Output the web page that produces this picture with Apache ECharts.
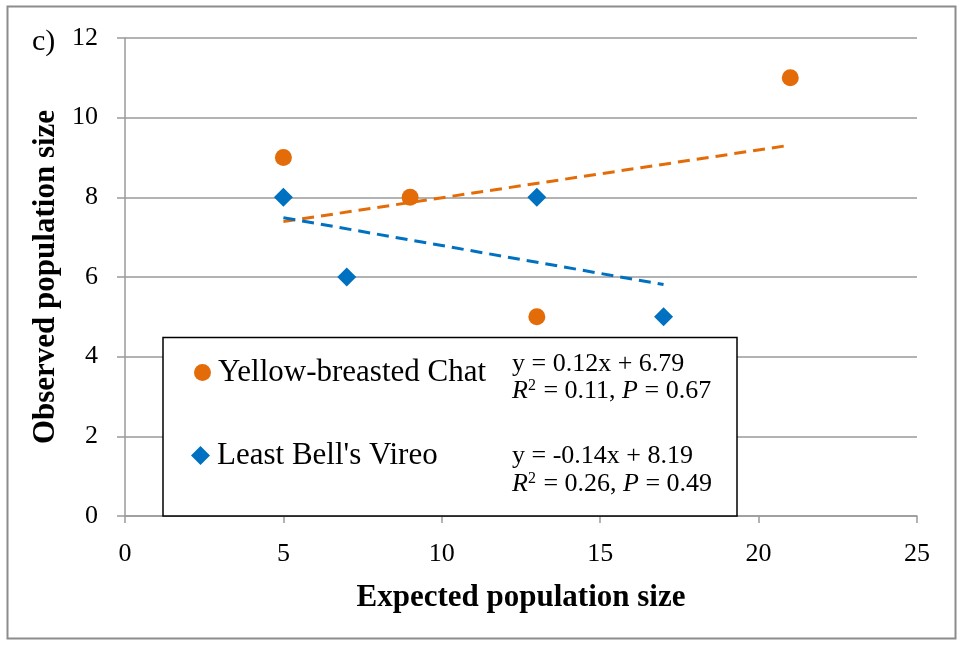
<!DOCTYPE html>
<html>
<head>
<meta charset="utf-8">
<script src="https://cdn.jsdelivr.net/npm/echarts@6/dist/echarts.min.js"></script>
<style>
  html, body { margin: 0; padding: 0; background: #fff; }
  #chart { width: 964px; height: 649px; }
</style>
</head>
<body>
<div id="chart"></div>
<script>
// Observed vs expected population sizes per species
const chatExpected = [5, 9, 13, 21];
const chatObserved = [9, 8, 5, 11];
const vireoExpected = [5, 7, 13, 17];
const vireoObserved = [8, 6, 8, 5];

// Linear fits: [slope, intercept], drawn over the range of each species' x values
const chatFit = [0.12, 6.79];
const vireoFit = [-0.14, 8.19];
const chatStats = ['0.11', '0.67'];
const vireoStats = ['0.26', '0.49'];

const xTicks = [0, 5, 10, 15, 20, 25];
const yTicks = [0, 2, 4, 6, 8, 10, 12];

const ORANGE = '#E36C09';
const BLUE = '#0070C0';
const SERIF = '"Liberation Serif", "Times New Roman", serif';

function pairs(xs, ys) { return xs.map((x, i) => [x, ys[i]]); }
function fitLine(xs, fit) {
  const lo = Math.min(...xs), hi = Math.max(...xs);
  return [[lo, fit[0] * lo + fit[1]], [hi, fit[0] * hi + fit[1]]];
}
function eqText(fit) {
  const s = fit[0] < 0 ? '-' + Math.abs(fit[0]).toFixed(2) : fit[0].toFixed(2);
  return 'y = ' + s + 'x + ' + fit[1].toFixed(2);
}
function statText(st) {
  return '{i|R}{s|2}{n| = ' + st[0] + ', }{i|P}{n| = ' + st[1] + '}';
}
const EQ_SIZE = 26;
const eqRich = {
  n: { fontFamily: SERIF, fontSize: EQ_SIZE, color: '#000' },
  i: { fontFamily: SERIF, fontSize: EQ_SIZE, fontStyle: 'italic', color: '#000' },
  s: { fontFamily: SERIF, fontSize: 16, color: '#000', verticalAlign: 'top', padding: [0, 1, 11, 0] }
};

const chart = echarts.init(document.getElementById('chart'), null, { renderer: 'canvas' });

const legendCommon = {
  orient: 'vertical',
  z: 10,
  itemWidth: 17,
  itemHeight: 17,
  itemGap: 0,
  padding: 0,
  selectedMode: false,
  textStyle: { fontFamily: SERIF, fontSize: 31, color: '#000', padding: [0, 0, 0, 2] }
};

chart.setOption({
  backgroundColor: '#fff',
  animation: false,
  grid: { left: 125, right: 47, top: 38, bottom: 133, containLabel: false },
  xAxis: {
    type: 'value',
    min: xTicks[0], max: xTicks[xTicks.length - 1], interval: 5,
    name: 'Expected population size',
    nameLocation: 'middle', nameGap: 66,
    nameTextStyle: { fontFamily: SERIF, fontSize: 31, fontWeight: 'bold', color: '#000' },
    axisLine: { show: true, lineStyle: { color: '#9a9a9a', width: 1.5 } },
    axisTick: { show: true, inside: false, length: 7, lineStyle: { color: '#9a9a9a', width: 1.5 } },
    axisLabel: { fontFamily: SERIF, fontSize: 26, color: '#000', margin: 25 },
    splitLine: { show: false }
  },
  yAxis: {
    type: 'value',
    min: yTicks[0], max: yTicks[yTicks.length - 1], interval: 2,
    name: 'Observed population size',
    nameLocation: 'middle', nameGap: 63,
    nameTextStyle: { fontFamily: SERIF, fontSize: 31, fontWeight: 'bold', color: '#000' },
    axisLine: { show: true, lineStyle: { color: '#9a9a9a', width: 1.5 } },
    axisTick: { show: true, inside: false, length: 8, lineStyle: { color: '#9a9a9a', width: 1.5 } },
    axisLabel: { fontFamily: SERIF, fontSize: 26, color: '#000', margin: 27 },
    splitLine: { show: true, lineStyle: { color: '#9a9a9a', width: 1.5 } }
  },
  legend: [
    Object.assign({}, legendCommon, { left: 194, top: 357, data: [{ name: 'Yellow-breasted Chat', icon: 'circle' }] }),
    Object.assign({}, legendCommon, { left: 191, top: 440, itemWidth: 19, itemHeight: 19, data: [{ name: "Least Bell's Vireo", icon: 'diamond' }] })
  ],
  graphic: [
    // outer frame
    { type: 'rect', z: 0, silent: true,
      shape: { x: 7.5, y: 6.5, width: 948, height: 632 },
      style: { fill: 'none', stroke: '#8c8c8c', lineWidth: 2 } },
    { type: 'text', left: 32, top: 27, z: 10,
      style: { text: 'c)', fontFamily: SERIF, fontSize: 30, fill: '#000' } },
    // legend box
    { type: 'rect', z: 3, silent: true,
      shape: { x: 163, y: 337.5, width: 574, height: 178.5 },
      style: { fill: '#fff', stroke: '#000', lineWidth: 1.5 } },
    { type: 'text', left: 512, top: 351, z: 10,
      style: { text: eqText(chatFit), fontFamily: SERIF, fontSize: EQ_SIZE, fill: '#000' } },
    { type: 'text', left: 512, top: 378, z: 10,
      style: { text: statText(chatStats), rich: eqRich } },
    { type: 'text', left: 512, top: 443, z: 10,
      style: { text: eqText(vireoFit), fontFamily: SERIF, fontSize: EQ_SIZE, fill: '#000' } },
    { type: 'text', left: 512, top: 471, z: 10,
      style: { text: statText(vireoStats), rich: eqRich } }
  ],
  series: [
    {
      name: 'Yellow-breasted Chat', type: 'scatter', z: 4,
      symbol: 'circle', symbolSize: 17,
      itemStyle: { color: ORANGE, opacity: 1 },
      data: pairs(chatExpected, chatObserved)
    },
    {
      name: "Least Bell's Vireo", type: 'scatter', z: 4,
      symbol: 'diamond', symbolSize: 19,
      itemStyle: { color: BLUE, opacity: 1 },
      data: pairs(vireoExpected, vireoObserved)
    },
    {
      name: 'Chat fit', type: 'line', z: 4, symbol: 'none',
      lineStyle: { color: ORANGE, width: 3, type: [12, 7] },
      data: fitLine(chatExpected, chatFit)
    },
    {
      name: 'Vireo fit', type: 'line', z: 4, symbol: 'none',
      lineStyle: { color: BLUE, width: 3, type: [12, 7] },
      data: fitLine(vireoExpected, vireoFit)
    }
  ]
});
</script>
</body>
</html>
